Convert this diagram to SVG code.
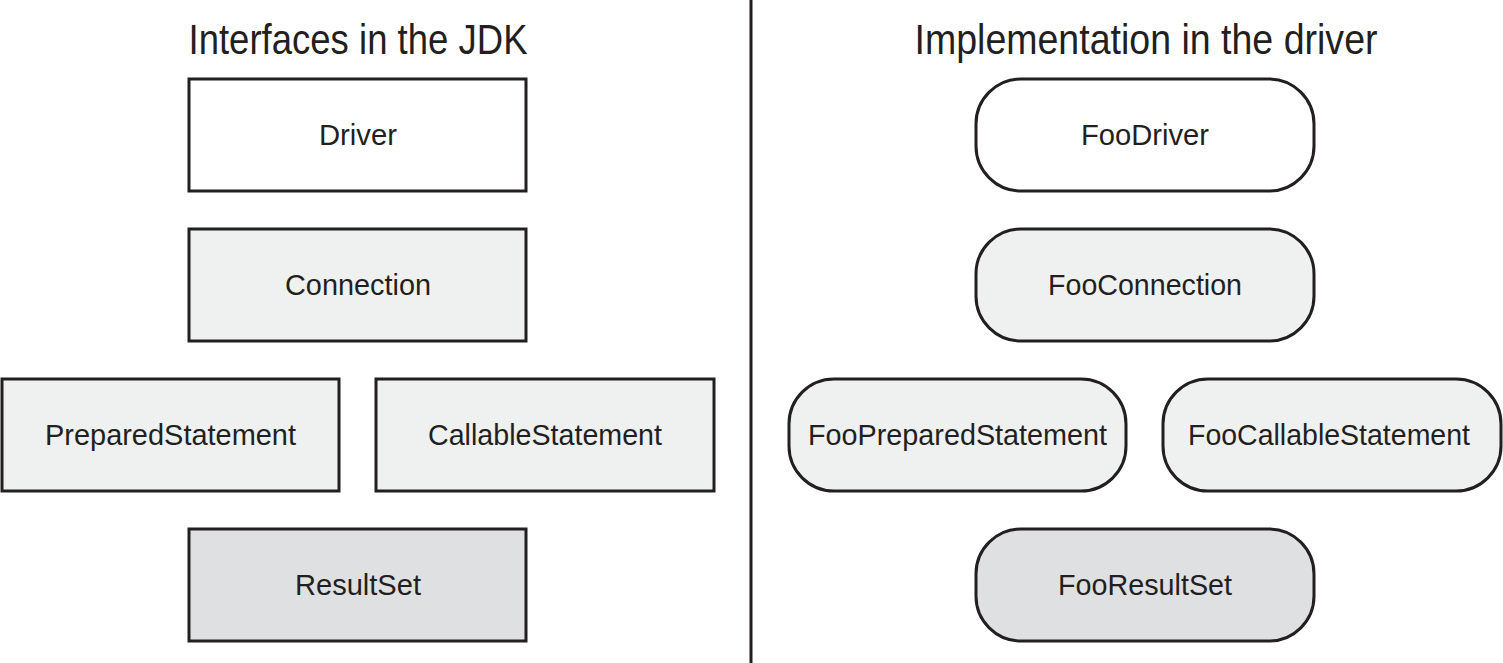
<svg xmlns="http://www.w3.org/2000/svg" width="1503" height="663" viewBox="0 0 1503 663">
<style>
.b{stroke:#231f20;stroke-width:3}
.w{fill:#ffffff}
.l{fill:#eff0f0}
.d{fill:#dfe0e2}
text{font-family:"Liberation Sans",Arial,sans-serif;fill:#231f20;text-anchor:middle}
.t{font-size:42px}
.n{font-size:29px}
</style>
<rect width="1503" height="663" fill="#ffffff"/>
<g id="titles">
<text class="t" x="358" y="54" textLength="339" lengthAdjust="spacingAndGlyphs">Interfaces in the JDK</text>
<text class="t" x="1146" y="54" textLength="463" lengthAdjust="spacingAndGlyphs">Implementation in the driver</text>
</g>
<g id="connectors">
<line x1="751" y1="0" x2="751" y2="663" stroke="#231f20" stroke-width="3"/>
</g>
<g id="Driver"><rect class="b w" x="189" y="79" width="337" height="112"/><text class="n" x="358" y="145" textLength="78" lengthAdjust="spacingAndGlyphs">Driver</text></g>
<g id="Connection"><rect class="b l" x="189" y="229" width="337" height="112"/><text class="n" x="358" y="295" textLength="146" lengthAdjust="spacingAndGlyphs">Connection</text></g>
<g id="PreparedStatement"><rect class="b l" x="2" y="379" width="337" height="112"/><text class="n" x="170.5" y="445" textLength="251" lengthAdjust="spacingAndGlyphs">PreparedStatement</text></g>
<g id="CallableStatement"><rect class="b l" x="376" y="379" width="338" height="112"/><text class="n" x="545" y="445" textLength="234" lengthAdjust="spacingAndGlyphs">CallableStatement</text></g>
<g id="ResultSet"><rect class="b d" x="189" y="529" width="337" height="112"/><text class="n" x="358" y="595" textLength="126" lengthAdjust="spacingAndGlyphs">ResultSet</text></g>
<g id="FooDriver"><rect class="b w" x="976" y="79" width="338" height="112" rx="45" ry="45"/><text class="n" x="1145" y="145" textLength="128" lengthAdjust="spacingAndGlyphs">FooDriver</text></g>
<g id="FooConnection"><rect class="b l" x="976" y="229" width="338" height="112" rx="45" ry="45"/><text class="n" x="1145" y="295" textLength="194" lengthAdjust="spacingAndGlyphs">FooConnection</text></g>
<g id="FooPreparedStatement"><rect class="b l" x="789" y="379" width="337" height="112" rx="45" ry="45"/><text class="n" x="957.5" y="445" textLength="299" lengthAdjust="spacingAndGlyphs">FooPreparedStatement</text></g>
<g id="FooCallableStatement"><rect class="b l" x="1163" y="379" width="338" height="112" rx="45" ry="45"/><text class="n" x="1329" y="445" textLength="282" lengthAdjust="spacingAndGlyphs">FooCallableStatement</text></g>
<g id="FooResultSet"><rect class="b d" x="976" y="529" width="338" height="112" rx="45" ry="45"/><text class="n" x="1145" y="595" textLength="174" lengthAdjust="spacingAndGlyphs">FooResultSet</text></g>
</svg>
